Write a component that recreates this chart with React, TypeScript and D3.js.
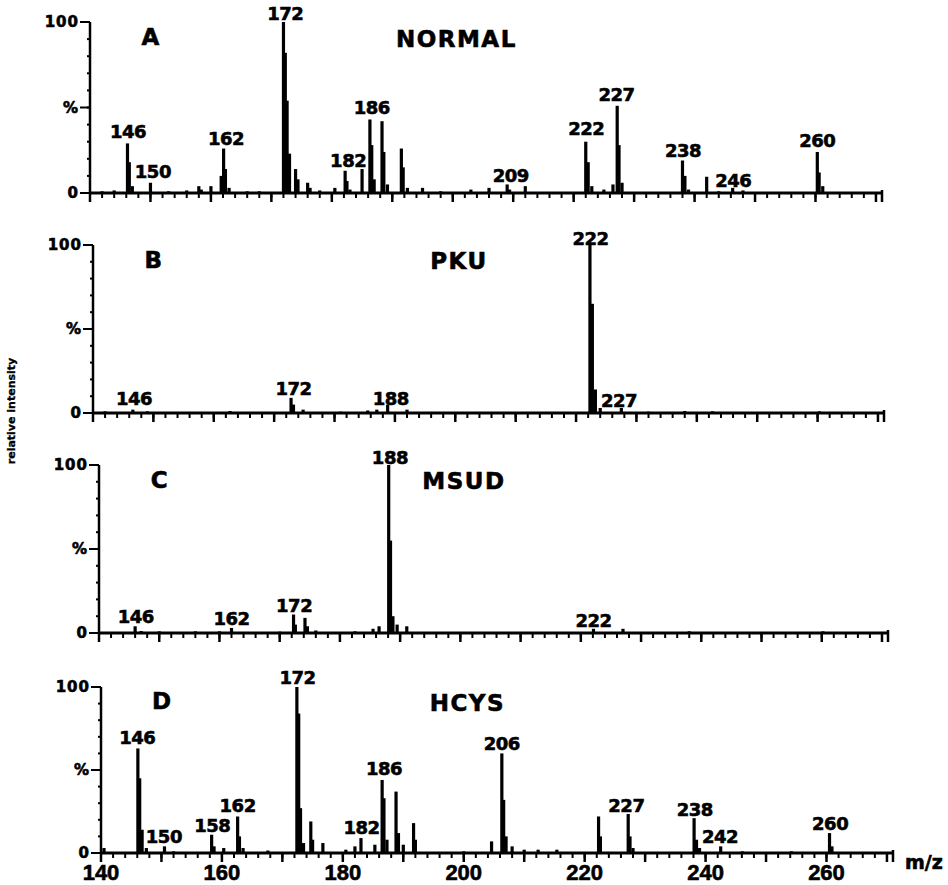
import * as d3 from "d3";

// peak lists: [m/z, relative intensity %]
const peaksA: [number, number][] = [
  [142, 1], [144, 1.5], [146.2, 29], [146.5, 18], [147, 4], [150, 6], [153, 1], [156, 1.5],
  [158, 4], [158.4, 2], [160, 4], [161.7, 10], [162.1, 26], [162.4, 14], [163, 3], [166, 1], [168, 1],
  [172, 100], [172.3, 82], [172.6, 54], [173, 23], [174, 14], [174.4, 8], [176, 6], [176.4, 3],
  [178, 1.5], [180.5, 3], [182.2, 13], [182.5, 7], [183, 2], [185, 14], [186.3, 43], [186.6, 28],
  [187, 8], [188.3, 42], [188.6, 24], [189.2, 5], [191.5, 26], [191.8, 15], [192.5, 3], [195, 3],
  [198, 1], [203, 2], [206, 3], [209, 5], [209.4, 2], [212, 4], [222, 30], [222.4, 18], [223, 4],
  [225, 2], [226.5, 5], [227.2, 51], [227.5, 28], [228, 6], [238, 19], [238.4, 10], [239, 2],
  [242, 9.5], [244, 1], [246.3, 3], [248, 1.5], [260.3, 24], [260.6, 12], [261.2, 4],
];
const peaksB: [number, number][] = [
  [142, 1], [146.6, 2], [149, 1], [162.7, 1.2], [172.8, 9], [173.2, 5], [174.8, 2], [181, 0.8],
  [185.5, 1.5], [187, 2], [188.8, 5], [192, 2], [222.3, 100], [222.7, 65], [223.2, 14], [224, 3],
  [227.5, 3], [232, 0.8], [238, 1.2], [242.6, 1], [260.3, 1],
];
const peaksC: [number, number][] = [
  [146, 4], [147, 1.2], [150, 1], [156, 1], [160, 1], [162, 3], [170, 0.8], [172.3, 11], [172.6, 5],
  [174.2, 9], [174.6, 4], [176, 1.5], [182.5, 1], [185.5, 2.5], [186.5, 4], [188.1, 100], [188.4, 55],
  [188.8, 10], [189.5, 5], [191.1, 4], [222.1, 2.5], [227, 2.5], [238, 1], [260.2, 1],
];
const peaksD: [number, number][] = [
  [140.5, 3], [146.1, 63], [146.4, 45], [146.8, 14], [147.5, 3], [150.5, 4], [152, 1], [158.3, 11],
  [158.7, 4], [160.3, 3], [162.6, 22], [162.9, 10], [163.5, 3], [167.6, 1.5], [172.4, 100], [172.7, 84],
  [173, 27], [173.5, 6], [174.7, 19], [175, 8], [176.7, 6], [180.5, 2], [182, 4], [183, 9], [185.3, 5],
  [186.5, 44], [186.8, 33], [187.3, 8], [188.8, 37], [189.2, 12], [190, 5], [191.7, 18], [192, 8],
  [200, 1], [204.6, 7], [206.3, 60], [206.6, 32], [207, 10], [208, 4], [210, 2], [212.3, 2],
  [215.4, 2], [222.3, 22], [222.6, 10], [227.2, 23.5], [227.5, 10], [228, 3], [238.1, 21],
  [238.5, 8], [239, 3], [242.5, 4], [246.1, 1], [254.2, 1], [260.5, 12], [260.9, 4],
];

// peak annotations: [text, m/z, intensity] (anchor of label baseline)
const labelsA: [string, number, number][] = [
  ["146", 146.3, 32], ["150", 150.4, 9], ["162", 162.5, 28], ["172", 172.3, 101], ["182", 182.7, 15],
  ["186", 186.6, 46], ["209", 209.6, 6.5], ["222", 222.1, 34], ["227", 227.1, 54], ["238", 238.1, 21],
  ["246", 246.4, 3.7], ["260", 260.3, 27],
];
const labelsB: [string, number, number][] = [
  ["146", 146.8, 5], ["172", 173.2, 10.7], ["188", 189.3, 5], ["222", 222.4, 100], ["227", 227.1, 3.7],
];
const labelsC: [string, number, number][] = [
  ["146", 146.1, 6], ["162", 162, 4.8], ["172", 172.4, 12.7], ["188", 188.3, 100.6], ["222", 222.1, 3.8],
];
const labelsD: [string, number, number][] = [
  ["146", 146, 65.7], ["150", 150.4, 6.2], ["158", 158.4, 12.8], ["162", 162.6, 25], ["172", 172.5, 102],
  ["182", 183.1, 11.4], ["186", 186.8, 47], ["206", 206.3, 62], ["227", 226.9, 25], ["238", 238.2, 22],
  ["242", 242.4, 5.8], ["260", 260.6, 13.9],
];

const panelLetters = ["A", "B", "C", "D"];
const panelNames = ["NORMAL", "PKU", "MSUD", "HCYS"];
const xTickLabels = [140, 160, 180, 200, 220, 240, 260];
const yTickValues = [0, 50, 100];
const yTickLabels = ["0", "%", "100"];

const allPeaks = [peaksA, peaksB, peaksC, peaksD];
const allLabels = [labelsA, labelsB, labelsC, labelsD];

// scanned figure: each panel sits slightly differently
const layout = [
  {x0: 90, x1: 882, top: 22, base: 193},
  {x0: 93, x1: 884, top: 245, base: 413},
  {x0: 99, x1: 888, top: 465, base: 633},
  {x0: 101, x1: 893, top: 687, base: 853},
];

const width = 948;
const height = 885;
const numFont = "'DejaVu Sans', sans-serif";
const heavy = {stroke: "#000", strokeWidth: 0.6};

function Panel({i}: {i: number}) {
  const {x0, x1, top, base} = layout[i];
  const x = d3.scaleLinear().domain([140, 271]).range([x0, x1]);
  const y = d3.scaleLinear().domain([0, 100]).range([base, top]);
  const minor = d3.range(140, 271, 2);
  const major = d3.range(140, 271, 10);
  const yMinor = d3.range(0, 101, 10);

  return (
    <g>
      {allPeaks[i].map(([m, v], k) => (
        <rect key={k} x={x(m) - 1.6} width={3.2} y={y(v)} height={base - y(v)} fill="#000"/>
      ))}
      {/* axes */}
      <line x1={x0} x2={x0} y1={top} y2={base} stroke="#000" strokeWidth={2.5}/>
      <line x1={x0} x2={x1} y1={base} y2={base} stroke="#000" strokeWidth={3.2}/>
      {minor.map(t => (
        <line key={"mi" + t} x1={x(t)} x2={x(t)} y1={base} y2={base + 5} stroke="#000" strokeWidth={2}/>
      ))}
      {major.map(t => (
        <line key={"ma" + t} x1={x(t)} x2={x(t)} y1={base} y2={base + 9} stroke="#000" strokeWidth={2.5}/>
      ))}
      <line x1={x1} x2={x1} y1={base - 3} y2={base + 9} stroke="#000" strokeWidth={2.5}/>
      {yMinor.map(t => (
        <line key={"ym" + t} x1={x0 - 3} x2={x0} y1={y(t)} y2={y(t)} stroke="#000" strokeWidth={2}/>
      ))}
      {yTickValues.map((t, k) => (
        <g key={"yt" + t}>
          <line x1={x0 - 10} x2={x0} y1={y(t)} y2={y(t)} stroke="#000" strokeWidth={2}/>
          <text x={x0 - 11} y={y(t)} dy="0.36em" textAnchor="end" fontFamily={numFont}
                fontWeight="bold" fontSize={15} letterSpacing={1} {...heavy}>{yTickLabels[k]}</text>
        </g>
      ))}
      {allLabels[i].map(([t, m, v], k) => (
        <text key={"l" + k} x={x(m)} y={y(v)} textAnchor="middle" fontFamily={numFont}
              fontWeight="bold" fontSize={18} letterSpacing={-0.5} {...heavy}>{t}</text>
      ))}
      <text x={x(150)} y={y(86.5)} textAnchor="middle" fontFamily={numFont} fontWeight="bold"
            fontSize={23} {...heavy}>{panelLetters[i]}</text>
      <text x={x(200.6)} y={y(85.5)} textAnchor="middle" fontFamily={numFont} fontWeight="bold"
            fontSize={23} letterSpacing={1.5} {...heavy}>{panelNames[i]}</text>
      {i === 3 && xTickLabels.map(t => (
        <text key={"xl" + t} x={x(t)} y={base + 27} textAnchor="middle"
              fontFamily="'Liberation Sans', Arial, sans-serif" fontWeight="bold" fontSize={22}
              {...heavy}>{t}</text>
      ))}
    </g>
  );
}

export default function App() {
  return (
    <svg width={width} height={height} viewBox={`0 0 ${width} ${height}`}
         style={{position: "absolute", left: 0, top: 0, background: "#fff"}}>
      <rect width={width} height={height} fill="#fff"/>
      {layout.map((_, i) => <Panel key={i} i={i}/>)}
      <text transform={`translate(15, 411) rotate(-90)`} textAnchor="middle" fontFamily={numFont}
            fontWeight="bold" fontSize={11} stroke="#000" strokeWidth={0.3}>relative intensity</text>
      <text x={905} y={869} fontFamily={numFont} fontWeight="bold" fontSize={19} {...heavy}>m/z</text>
    </svg>
  );
}
